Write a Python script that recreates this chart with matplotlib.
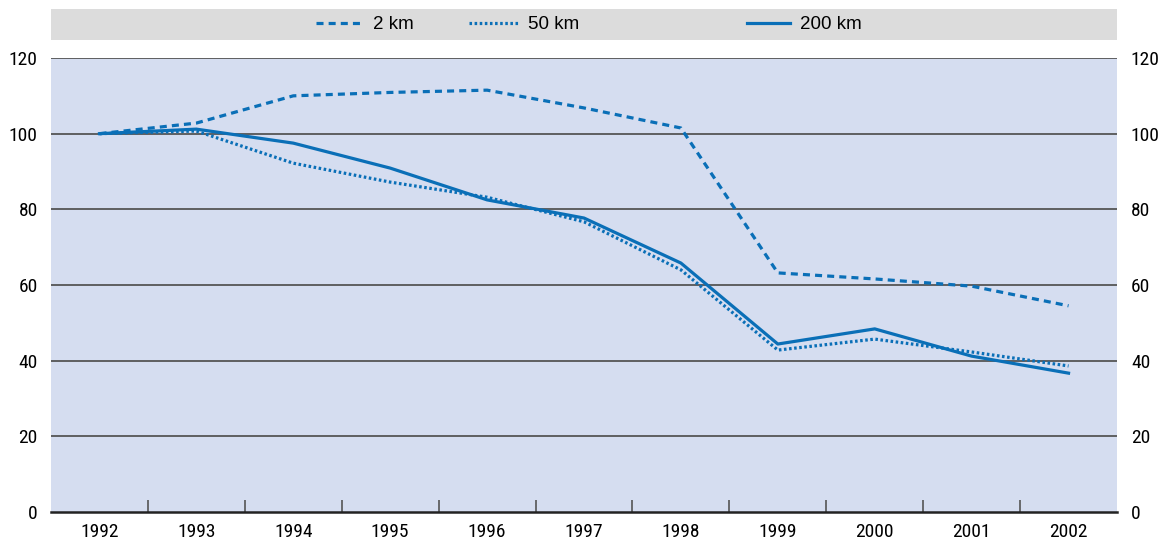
import matplotlib
matplotlib.use("Agg")
import matplotlib.pyplot as plt
from matplotlib import font_manager
from matplotlib.legend import Legend

years = ["1992", "1993", "1994", "1995", "1996", "1997", "1998", "1999", "2000", "2001", "2002"]
km2 = [100, 102.8, 110.0, 110.9, 111.5, 106.8, 101.5, 63.2, 61.6, 59.7, 54.5]
km50 = [100, 100.7, 92.2, 87.2, 83.2, 76.7, 64.0, 42.8, 45.7, 42.3, 38.6]
km200 = [100, 101.2, 97.5, 90.9, 82.5, 77.7, 65.8, 44.4, 48.4, 41.2, 36.7]
labels = ["2 km", "50 km", "200 km"]
yticks = [0, 20, 40, 60, 80, 100, 120]

names = {f.name for f in font_manager.fontManager.ttflist}
narrow = "Liberation Sans"
for cand in ["Liberation Sans Narrow", "Roboto Condensed", "Open Sans Condensed", "DejaVu Sans Condensed"]:
    if cand in names:
        narrow = cand
        break
plt.rcParams['font.family'] = ['Liberation Sans', 'DejaVu Sans']

blue = "#0a6fb7"
W, H = 1171, 541
fig = plt.figure(figsize=(W / 100, H / 100), dpi=100)
ax = fig.add_axes([51 / W, 1 - 512 / H, (1117 - 51) / W, (512 - 58) / H])
ax.set_facecolor("#d5ddf0")
x = list(range(len(years)))

ax.set_xlim(-0.5, len(years) - 0.5)
ax.set_ylim(0, 120)
for v in yticks[1:]:
    ax.axhline(v, color="#555555", lw=1.3, zorder=1)

l1, = ax.plot(x, km2, color=blue, lw=2.3, linestyle=(0, (2.2, 1.6)), zorder=3)
l2, = ax.plot(x, km50, color=blue, lw=2.3, linestyle=(0, (0.8, 0.8)), zorder=3)
l3, = ax.plot(x, km200, color=blue, lw=2.3, linestyle="-", zorder=3)

for s in ["top", "right", "left"]:
    ax.spines[s].set_visible(False)
ax.spines["bottom"].set_color("#222222")
ax.spines["bottom"].set_linewidth(1.8)

tfs = 14
ax.set_xticks(x)
ax.set_xticklabels(years, fontfamily=narrow, fontsize=tfs)
ax.set_xticks([i + 0.5 for i in x[:-1]], minor=True)
ax.tick_params(axis="x", which="major", length=0, pad=8)
ax.tick_params(axis="x", which="minor", direction="in", length=9, width=1.2, color="#555555")
ax.set_yticks(yticks)
ax.set_yticklabels([str(v) for v in yticks], fontfamily=narrow, fontsize=tfs)
ax.tick_params(axis="y", length=0, pad=9.5)

ax2 = ax.twinx()
ax2.set_ylim(0, 120)
ax2.set_yticks(yticks)
ax2.set_yticklabels([str(v) for v in yticks], fontfamily=narrow, fontsize=tfs)
ax2.tick_params(axis="y", length=0, pad=10)
for s in ["top", "right", "left", "bottom"]:
    ax2.spines[s].set_visible(False)

lax = fig.add_axes([51 / W, 1 - 40 / H, (1117 - 51) / W, 31 / H])
lax.set_facecolor("#dcdcdc")
lax.set_xticks([])
lax.set_yticks([])
for s in lax.spines.values():
    s.set_visible(False)
starts = [316, 469, 747]
hl = [2.55, 2.65, 2.3]
for h, lab, sx, L in zip([l1, l2, l3], labels, starts, hl):
    leg = Legend(lax, [h], [lab], loc="center left", frameon=False, fontsize=13.5,
                 handlelength=L, handletextpad=0.5, borderpad=0, borderaxespad=0,
                 bbox_to_anchor=((sx - 51) / 1066, 0.5))
    lax.add_artist(leg)

fig.savefig("out.png", dpi=100)
